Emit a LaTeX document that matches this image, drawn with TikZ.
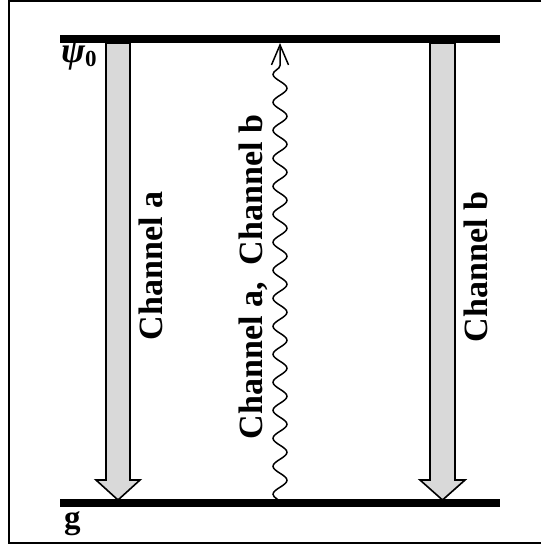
\documentclass[tikz,border=0pt]{standalone}
\usepackage{fontspec}
\setmainfont{Liberation Serif}
\usetikzlibrary{decorations.pathmorphing,arrows.meta}
\begin{document}
\begin{tikzpicture}[x=1pt,y=-1pt,
  level/.style={line width=8pt},
  frameline/.style={line width=2pt},
  fatarrow/.style={draw=black,line width=1.6pt,fill={rgb,255:red,217;green,217;blue,217},line join=miter},
  chlabel/.style={font=\fontsize{34}{34}\selectfont\bfseries,rotate=90,inner sep=0pt},
  levlabel/.style={anchor=base west,inner sep=0pt,font=\fontsize{36}{36}\selectfont\bfseries},
  wave/.style={line width=1.5pt,decorate,
    decoration={snake,amplitude=7pt,segment length=28pt,post length=14pt}}]
  \useasboundingbox (0,0) rectangle (541,545);
  % outer frame (open on the right)
  \draw[frameline] (541,1) -- (9,1) -- (9,543) -- (541,543);
  % energy levels
  \coordinate (psiL) at (60,39);
  \coordinate (psiR) at (500,39);
  \coordinate (gL) at (60,503);
  \coordinate (gR) at (500,503);
  \draw[level] (psiL) -- (psiR);
  \draw[level] (gL) -- (gR);
  % level labels
  \node[levlabel] (psi) at (61,63)
    {\itshape ψ\upshape\raisebox{-4pt}{\fontsize{23}{23}\selectfont 0}};
  \node[levlabel,font=\fontsize{33}{33}\selectfont\bfseries] (g) at (64,528) {g};
  % channel a: broad downward arrow
  \draw[fatarrow] (106,43) -- (130,43) -- (130,480) -- (140,480) -- (118,500)
    -- (96,480) -- (106,480) -- cycle;
  % channel b: broad downward arrow
  \draw[fatarrow] (430,43) -- (455,43) -- (455,480) -- (465,480) -- (442.5,500)
    -- (420,480) -- (430,480) -- cycle;
  % wavy excitation from g up to psi_0
  \coordinate (wbot) at (280,503);
  \coordinate (wtop) at (280,43);
  \draw[wave,-{Straight Barb[length=20pt,width=17pt,line width=1.5pt]}] (wbot) -- (wtop);
  % labels
  \node[chlabel] (la) at (151,266) {Channel a};
  \node[chlabel] (lab) at (253,277) {Channel a,\ \ Channel b};
  \node[chlabel] (lb) at (476,267) {Channel b};
\end{tikzpicture}
\end{document}
